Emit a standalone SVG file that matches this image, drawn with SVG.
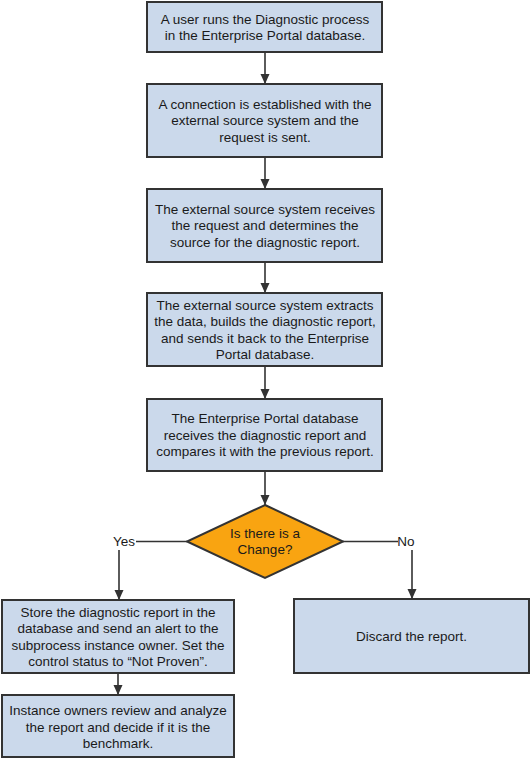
<svg xmlns="http://www.w3.org/2000/svg" width="531" height="759" viewBox="0 0 531 759">
<style>
.box{fill:#cbd9eb;stroke:#333333;stroke-width:2}
.dia{fill:#f9a411;stroke:#333333;stroke-width:2}
.t{font-family:"Liberation Sans",Arial,sans-serif;font-size:13.5px;fill:#1a1a1a;text-anchor:middle}
.ln{fill:none;stroke:#333333;stroke-width:1.6}
</style>
<defs>
<marker id="ah" markerUnits="userSpaceOnUse" markerWidth="10" markerHeight="10" viewBox="0 0 10 10" refX="10" refY="5" orient="auto">
<path d="M0,0.5 L10,5 L0,9.5 Z" fill="#333333"/>
</marker>
</defs>
<rect width="531" height="759" fill="#ffffff"/>
<g id="connectors">
<line class="ln" x1="265" y1="52" x2="265" y2="84" marker-end="url(#ah)"/>
<line class="ln" x1="265" y1="157" x2="265" y2="189" marker-end="url(#ah)"/>
<line class="ln" x1="265" y1="262" x2="265" y2="293" marker-end="url(#ah)"/>
<line class="ln" x1="265" y1="366" x2="265" y2="399" marker-end="url(#ah)"/>
<line class="ln" x1="265" y1="471" x2="265" y2="505" marker-end="url(#ah)"/>
<line class="ln" x1="187" y1="541.5" x2="136" y2="541.5"/>
<line class="ln" x1="119" y1="550" x2="119" y2="600" marker-end="url(#ah)"/>
<line class="ln" x1="343" y1="541.5" x2="398" y2="541.5"/>
<line class="ln" x1="412" y1="550" x2="412" y2="599" marker-end="url(#ah)"/>
<line class="ln" x1="118" y1="673" x2="118" y2="695" marker-end="url(#ah)"/>
<text class="t" x="124" y="546">Yes</text>
<text class="t" x="406" y="546">No</text>
</g>
<g id="n1">
<rect class="box" x="147" y="2" width="235" height="50"/>
<text class="t" x="265" y="23.5">A user runs the Diagnostic process</text>
<text class="t" x="265" y="40">in the Enterprise Portal database.</text>
</g>
<g id="n2">
<rect class="box" x="147" y="84" width="235" height="73"/>
<text class="t" x="265" y="108.5">A connection is established with the</text>
<text class="t" x="265" y="125">external source system and the</text>
<text class="t" x="265" y="141.5">request is sent.</text>
</g>
<g id="n3">
<rect class="box" x="147" y="189" width="235" height="73"/>
<text class="t" x="265" y="213.5">The external source system receives</text>
<text class="t" x="265" y="230">the request and determines the</text>
<text class="t" x="265" y="246.5">source for the diagnostic report.</text>
</g>
<g id="n4">
<rect class="box" x="147" y="293" width="235" height="73"/>
<text class="t" x="265" y="309.5">The external source system extracts</text>
<text class="t" x="265" y="326">the data, builds the diagnostic report,</text>
<text class="t" x="265" y="342.5">and sends it back to the Enterprise</text>
<text class="t" x="265" y="359">Portal database.</text>
</g>
<g id="n5">
<rect class="box" x="147" y="399" width="235" height="72"/>
<text class="t" x="265" y="423">The Enterprise Portal database</text>
<text class="t" x="265" y="439.5">receives the diagnostic report and</text>
<text class="t" x="265" y="456">compares it with the previous report.</text>
</g>
<g id="d1">
<polygon class="dia" points="265,505 343,541.5 265,578 187,541.5"/>
<text class="t" x="265" y="537.5">Is there is a</text>
<text class="t" x="265" y="554">Change?</text>
</g>
<g id="n6">
<rect class="box" x="2" y="600" width="232" height="73"/>
<text class="t" x="118" y="616.5">Store the diagnostic report in the</text>
<text class="t" x="118" y="633">database and send an alert to the</text>
<text class="t" x="118" y="649.5">subprocess instance owner. Set the</text>
<text class="t" x="118" y="666">control status to “Not Proven”.</text>
</g>
<g id="n7">
<rect class="box" x="294" y="599" width="235" height="74"/>
<text class="t" x="411.5" y="640.5">Discard the report.</text>
</g>
<g id="n8">
<rect class="box" x="2" y="695" width="232" height="62"/>
<text class="t" x="118" y="715">Instance owners review and analyze</text>
<text class="t" x="118" y="731.5">the report and decide if it is the</text>
<text class="t" x="118" y="748">benchmark.</text>
</g>
</svg>
